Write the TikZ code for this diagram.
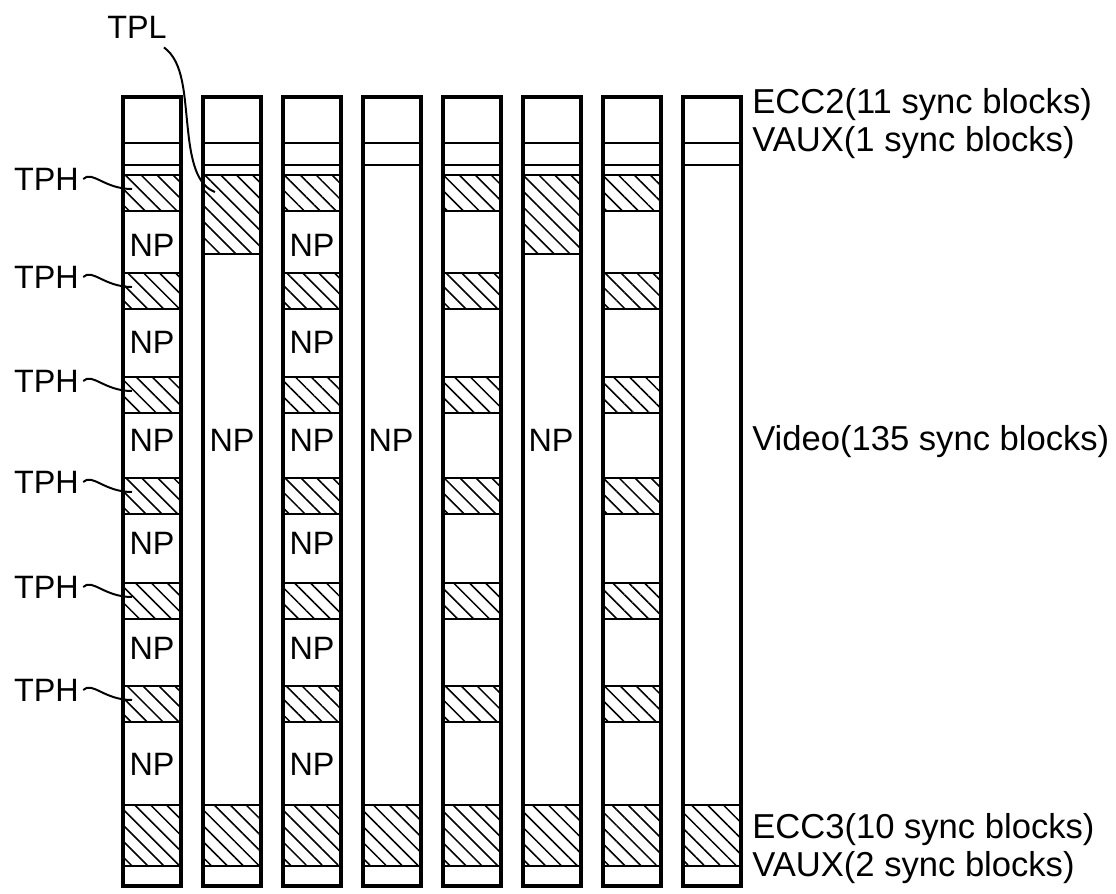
\documentclass[tikz,border=0pt]{standalone}
\usepackage{fontspec}
\setmainfont{Liberation Sans}
\usetikzlibrary{patterns.meta}

\tikzset{
  box/.style={draw,line width=2.5pt},
  sep/.style={draw,line width=2.1pt},
  hatch/.style={pattern={Lines[angle=-45,distance=8pt,line width=1.1pt]}},
  lbl/.style={font=\fontsize{23}{27}\selectfont,inner sep=0pt},
  side/.style={font=\fontsize{24.6}{29}\selectfont,inner sep=0pt,anchor=west},
  lead/.style={draw,line width=1.4pt},
}

\begin{document}
\begin{tikzpicture}[x=0.025cm,y=-0.025cm]
    \useasboundingbox (0,0) rectangle (1116,893);

    % every track: ECC2, VAUX, ECC3, VAUX
    \foreach \c in {0,...,7} {
        \begin{scope}[xshift=\c*2cm]
            \draw[sep] (123,143) -- (181,143) (123,165) -- (181,165);
            \draw[sep,hatch] (123,805) rectangle (181,866);
            \draw[box] (123,97) rectangle (181,886);
        \end{scope}
    }

    % tracks with TPH blocks
    \foreach \c in {0,2,4,6} {
        \begin{scope}[xshift=\c*2cm]
            \foreach \t in {175,273,377,478,583,686}
                \draw[sep,hatch] (123,\t) rectangle (181,\t+36);
        \end{scope}
    }

    % tracks with TPL block
    \foreach \c in {1,5} {
        \begin{scope}[xshift=\c*2cm]
            \draw[sep] (123,165) -- (181,165);
            \draw[sep,hatch] (123,175) rectangle (181,254);
        \end{scope}
    }

    % NP labels
    \foreach \y [count=\k] in {245,342,440,543,648,764} {
        \node[lbl] (npa\k) at (152,\y) {NP};
        \node[lbl] (npc\k) at (312,\y) {NP};
    }
    \node[lbl] (npb) at (232,440) {NP};
    \node[lbl] (npd) at (391,440) {NP};
    \node[lbl] (npf) at (551,440) {NP};

    % TPH leaders
    \foreach \t [count=\k] in {175,273,377,478,583,686} {
        \node[lbl,anchor=east] (tph\k) at (79,\t+4) {TPH};
        \coordinate (tphend\k) at (132,\t+14);
        \draw[lead] ([xshift=3]tph\k.east) .. controls +(9,-9) and +(-28,0) .. (tphend\k);
    }

    % TPL leader
    \node[lbl] (tpl) at (137,27) {TPL};
    \coordinate (tplend) at (215,192);
    \draw[lead] ([shift={(-3,9)}]tpl.south east)
        .. controls (184,62) and (184,95) .. (188,130)
        .. controls (192,170) and (200,186) .. (tplend);

    % right side labels
    \node[side] (ecc2) at (752,105) {ECC2(11 sync blocks)};
    \node[side] (vaux1) at (752,143) {VAUX(1 sync blocks)};
    \node[side] (video) at (752,442) {Video(135 sync blocks)};
    \node[side] (ecc3) at (752,830) {ECC3(10 sync blocks)};
    \node[side] (vaux2) at (752,868) {VAUX(2 sync blocks)};
\end{tikzpicture}
\end{document}
